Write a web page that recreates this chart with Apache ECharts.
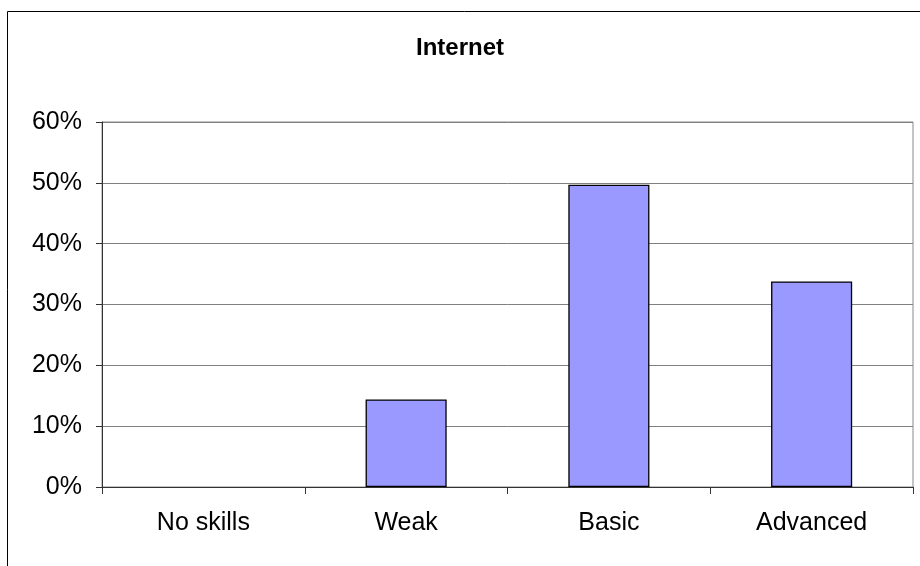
<!DOCTYPE html>
<html>
<head>
<meta charset="utf-8">
<script src="https://cdn.jsdelivr.net/npm/echarts@6/dist/echarts.min.js"></script>
<style>
html,body{margin:0;padding:0;background:#fff;}
#c{width:920px;height:566px;}
</style>
</head>
<body>
<div id="c"></div>
<script>
const categories = ['No skills', 'Weak', 'Basic', 'Advanced'];
const values = [0, 14.4, 49.7, 33.8];
const yTicks = { min: 0, max: 60, interval: 10 };
const titleText = 'Internet';

const chart = echarts.init(document.getElementById('c'), null, { renderer: 'canvas' });
chart.setOption({
  animation: false,
  backgroundColor: '#fff',
  title: {
    text: titleText,
    left: 'center',
    top: 31,
    textStyle: { fontFamily: 'Liberation Sans, Arial', fontSize: 24, fontWeight: 'bold', color: '#000' }
  },
  graphic: [{
    type: 'rect',
    shape: { x: 7.5, y: 11.5, width: 1000, height: 1000 },
    style: { fill: 'none', stroke: '#000', lineWidth: 1 },
    silent: true,
    z: 100
  }],
  grid: {
    left: 102, right: 7, top: 122, bottom: 79,
    show: true, borderColor: '#888', borderWidth: 1, backgroundColor: 'transparent'
  },
  xAxis: {
    type: 'category',
    data: categories,
    boundaryGap: true,
    axisLine: { show: true, lineStyle: { color: '#333', width: 1 } },
    axisTick: { show: true, length: 7, lineStyle: { color: '#333' } },
    axisLabel: { margin: 24, fontFamily: 'Liberation Sans, Arial', fontSize: 25, color: '#000' },
    splitLine: { show: false }
  },
  yAxis: {
    type: 'value',
    min: yTicks.min, max: yTicks.max, interval: yTicks.interval,
    axisLine: { show: true, lineStyle: { color: '#333', width: 1 } },
    axisTick: { show: true, length: 6, lineStyle: { color: '#333' } },
    axisLabel: { margin: 20, formatter: '{value}%', fontFamily: 'Liberation Sans, Arial', fontSize: 25, color: '#000' },
    splitLine: { show: true, lineStyle: { color: '#808080', width: 1 } }
  },
  series: [{
    type: 'bar',
    data: values.map(v => v === 0 ? { value: v, itemStyle: { borderWidth: 0 } } : v),
    barWidth: '40%',
    itemStyle: { color: '#9999FF', borderColor: '#000', borderWidth: 1.3 }
  }]
});
</script>
</body>
</html>
